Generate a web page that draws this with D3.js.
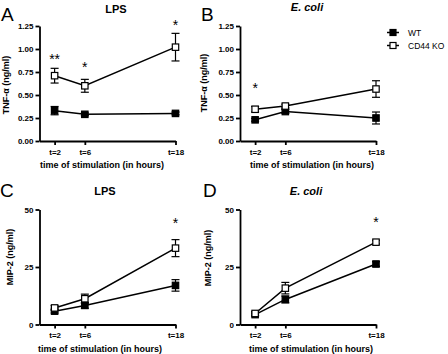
<!DOCTYPE html>
<html>
<head>
<meta charset="utf-8">
<script src="https://cdn.jsdelivr.net/npm/d3@7"></script>
<style>
  body { margin: 0; background: #fff; }
  svg { font-family: "Liberation Sans", Arial, sans-serif; }
  .tick text { font-size: 8px; font-weight: bold; fill: #000; }
  .axis path, .axis line { stroke: #000; stroke-width: 1.8; }
</style>
</head>
<body>
<script>
// time points (hours)
const times = [2, 6, 18];
const seriesNames = ["WT", "CD44 KO"];

// TNF-alpha, LPS
const tnfLpsWT = [0.33, 0.29, 0.30];
const tnfLpsWTErr = [0.045, 0.015, 0.015];
const tnfLpsKO = [0.71, 0.60, 1.02];
const tnfLpsKOErr = [0.08, 0.07, 0.15];

// TNF-alpha, E. coli
const tnfEcoWT = [0.23, 0.32, 0.25];
const tnfEcoWTErr = [0.015, 0.02, 0.065];
const tnfEcoKO = [0.345, 0.38, 0.565];
const tnfEcoKOErr = [0.03, 0.02, 0.09];

// MIP-2, LPS
const mipLpsWT = [5.8, 8.3, 17.0];
const mipLpsWTErr = [0.8, 1.2, 2.5];
const mipLpsKO = [7.2, 11.2, 33.2];
const mipLpsKOErr = [1.0, 2.0, 3.7];

// MIP-2, E. coli
const mipEcoWT = [4.3, 10.9, 26.3];
const mipEcoWTErr = [0.6, 1.5, 1.0];
const mipEcoKO = [4.8, 15.8, 35.8];
const mipEcoKOErr = [0.8, 2.5, 0.8];

// significance marks: [time, text, value at baseline]
const starsA = [[2, "**", 0.84], [6, "*", 0.75], [18, "*", 1.21]];
const starsB = [[2, "*", 0.52]];
const starsC = [[18, "*", 42]];
const starsD = [[18, "*", 42.5]];

const tnfTicks = [0, 0.25, 0.5, 0.75, 1.0, 1.25];
const mipTicks = [0, 25, 50];

const W = 448, H = 354;
const svg = d3.select("body").append("svg")
  .attr("width", W).attr("height", H);

const panels = [
  { letter: "A", lx: 1, ly: 21, title: "LPS", italic: false, tx: 116, ty: 12.5,
    x0: 39.5, x1: 175.5, y0: 141, y1: 26, ymax: 1.25, ticks: tnfTicks, fmt: d3.format(".2f"),
    ylab: "TNF-\u03B1 (ng/ml)", ylx: 8.5, yly: 85, xlx: 102, xly: 168,
    wt: tnfLpsWT, wtErr: tnfLpsWTErr, ko: tnfLpsKO, koErr: tnfLpsKOErr, stars: starsA },
  { letter: "B", lx: 201, ly: 21, title: "E. coli", italic: true, tx: 307, ty: 11,
    x0: 240, x1: 376, y0: 141, y1: 26, ymax: 1.25, ticks: tnfTicks, fmt: d3.format(".2f"),
    ylab: "TNF-\u03B1 (ng/ml)", ylx: 206.5, yly: 83, xlx: 312, xly: 168,
    wt: tnfEcoWT, wtErr: tnfEcoWTErr, ko: tnfEcoKO, koErr: tnfEcoKOErr, stars: starsB },
  { letter: "C", lx: 0, ly: 197, title: "LPS", italic: false, tx: 105, ty: 195,
    x0: 39.5, x1: 175.5, y0: 324.5, y1: 209.5, ymax: 50, ticks: mipTicks, fmt: d3.format("d"),
    ylab: "MIP-2 (ng/ml)", ylx: 12.5, yly: 257, xlx: 100, xly: 352,
    wt: mipLpsWT, wtErr: mipLpsWTErr, ko: mipLpsKO, koErr: mipLpsKOErr, stars: starsC },
  { letter: "D", lx: 203, ly: 197, title: "E. coli", italic: true, tx: 306, ty: 194.5,
    x0: 240, x1: 376, y0: 324.5, y1: 209.5, ymax: 50, ticks: mipTicks, fmt: d3.format("d"),
    ylab: "MIP-2 (ng/ml)", ylx: 210.5, yly: 258, xlx: 311, xly: 352,
    wt: mipEcoWT, wtErr: mipEcoWTErr, ko: mipEcoKO, koErr: mipEcoKOErr, stars: starsD }
];

panels.forEach(p => {
  const x = d3.scaleLinear().domain([0, 18]).range([p.x0, p.x1]);
  const y = d3.scaleLinear().domain([0, p.ymax]).range([p.y0, p.y1]);

  svg.append("text").attr("x", p.lx).attr("y", p.ly)
    .attr("font-size", 19).text(p.letter);

  svg.append("text").attr("x", p.tx).attr("y", p.ty)
    .attr("text-anchor", "middle").attr("font-size", 11).attr("font-weight", "bold")
    .attr("font-style", p.italic ? "italic" : "normal").text(p.title);

  svg.append("g").attr("class", "axis")
    .attr("transform", `translate(${p.x0},0)`)
    .call(d3.axisLeft(y).tickValues(p.ticks).tickFormat(p.fmt)
      .tickSize(4).tickSizeOuter(0).tickPadding(2));

  svg.append("g").attr("class", "axis")
    .attr("transform", `translate(0,${p.y0})`)
    .call(d3.axisBottom(x).tickValues(times).tickFormat(d => "t=" + d)
      .tickSize(4).tickSizeOuter(0).tickPadding(4));

  svg.append("text")
    .attr("transform", `translate(${p.ylx},${p.yly}) rotate(-90)`)
    .attr("text-anchor", "middle").attr("font-size", 9).attr("font-weight", "bold")
    .text(p.ylab);

  svg.append("text").attr("x", p.xlx).attr("y", p.xly)
    .attr("text-anchor", "middle").attr("font-size", 9).attr("font-weight", "bold")
    .text("time of stimulation (in hours)");

  const line = d3.line().x((d, i) => x(times[i])).y(d => y(d));
  const groups = [
    { vals: p.wt, errs: p.wtErr, fill: "#000" },
    { vals: p.ko, errs: p.koErr, fill: "#fff" }
  ];

  groups.forEach(g => {
    svg.append("path").attr("d", line(g.vals))
      .attr("fill", "none").attr("stroke", "#000").attr("stroke-width", 1.5);
  });

  groups.forEach(g => {
    const eb = svg.append("g").attr("stroke", "#000").attr("stroke-width", 1.2);
    g.vals.forEach((v, i) => {
      const cx = x(times[i]);
      const top = y(v + g.errs[i]), bot = y(v - g.errs[i]);
      eb.append("line").attr("x1", cx).attr("x2", cx).attr("y1", top).attr("y2", bot);
      eb.append("line").attr("x1", cx - 4).attr("x2", cx + 4).attr("y1", top).attr("y2", top);
      eb.append("line").attr("x1", cx - 4).attr("x2", cx + 4).attr("y1", bot).attr("y2", bot);
    });
    svg.selectAll(null).data(g.vals).enter().append("rect")
      .attr("x", (d, i) => x(times[i]) - 3.2)
      .attr("y", d => y(d) - 3.2)
      .attr("width", 6.4).attr("height", 6.4)
      .attr("fill", g.fill).attr("stroke", "#000").attr("stroke-width", 1.2);
  });

  p.stars.forEach(s => {
    svg.append("text").attr("x", x(s[0])).attr("y", y(s[2]))
      .attr("text-anchor", "middle").attr("font-size", 14).text(s[1]);
  });
});

// legend
const legY = [32.5, 45.5];
seriesNames.forEach((name, i) => {
  const g = svg.append("g");
  g.append("line").attr("x1", 387).attr("x2", 399).attr("y1", legY[i]).attr("y2", legY[i])
    .attr("stroke", "#000").attr("stroke-width", 1.5);
  g.append("rect").attr("x", 390).attr("y", legY[i] - 3).attr("width", 6).attr("height", 6)
    .attr("fill", i === 0 ? "#000" : "#fff").attr("stroke", "#000").attr("stroke-width", 1.2);
  g.append("text").attr("x", 408).attr("y", legY[i] + 3.5)
    .attr("font-size", 8.5).text(name);
});
</script>
</body>
</html>
